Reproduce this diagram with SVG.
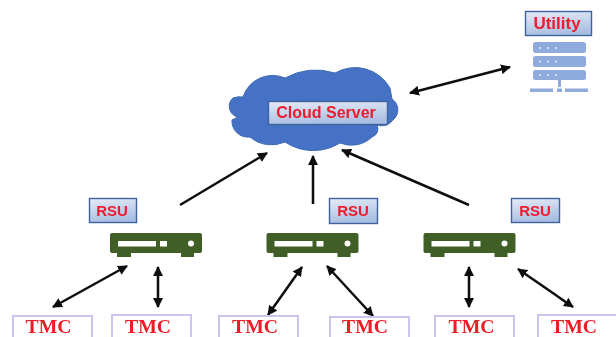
<svg xmlns="http://www.w3.org/2000/svg" width="616" height="337" viewBox="0 0 616 337">
<style>
.lbl{fill:url(#boxfill);stroke:#3f64a0;stroke-width:1.4}
.lt{font-family:"Liberation Sans",Arial,sans-serif;font-weight:700;fill:#ee1c2e;text-anchor:middle}
.tmc{fill:#fff;stroke:#c9c6ee;stroke-width:2}
.tt{font-family:"Liberation Serif","Times New Roman",serif;font-weight:700;font-size:18px;fill:#ee1c25;text-anchor:middle}
.dev{fill:#3f5f27}
.hole{fill:#fff}
.srv{fill:#8faadc}
.c{stroke:#111;stroke-width:2.5;fill:none;marker-end:url(#ah)}
.d{marker-start:url(#ahs)}
</style>
<defs>
<linearGradient id="boxfill" x1="0" y1="0" x2="0.25" y2="1"><stop offset="0" stop-color="#e6ebf6"/><stop offset="1" stop-color="#a9bfe2"/></linearGradient>
<marker id="ah" viewBox="0 0 10 10" refX="9" refY="5" markerWidth="4" markerHeight="4" orient="auto"><path d="M0 0L10 5L0 10Z" fill="#111"/></marker>
<marker id="ahs" viewBox="0 0 10 10" refX="1" refY="5" markerWidth="4" markerHeight="4" orient="auto"><path d="M10 0L0 5L10 10Z" fill="#111"/></marker>
<filter id="soft" x="-5%" y="-5%" width="110%" height="110%"><feGaussianBlur stdDeviation="0.5"/></filter>
<g id="device"><path class="dev" d="M112 233H200Q202 233 202 235V251Q202 253 200 253H194V257H181V253H131V257H117V253H112Q110 253 110 251V235Q110 233 112 233Z"/><rect class="hole" x="118" y="241" width="38" height="5.5"/><rect class="hole" x="160" y="241" width="7" height="5.5"/><circle class="hole" cx="191" cy="243.5" r="3"/></g>
</defs>
<g filter="url(#soft)">
<g id="connectors">
<line class="c d" x1="410" y1="93" x2="510" y2="67"/>
<line class="c" x1="180" y1="205" x2="267" y2="153"/>
<line class="c" x1="313" y1="204" x2="313" y2="156"/>
<line class="c" x1="469" y1="205" x2="342" y2="150"/>
<line class="c d" x1="53" y1="307" x2="127" y2="266"/>
<line class="c d" x1="158" y1="267" x2="158" y2="307"/>
<line class="c d" x1="268" y1="315" x2="302" y2="267"/>
<line class="c d" x1="327" y1="266" x2="373" y2="316"/>
<line class="c d" x1="469" y1="267" x2="469" y2="307"/>
<line class="c d" x1="518" y1="269" x2="573" y2="307"/>
</g>
<g id="cloud">
<path fill="#4472c4" stroke="#4069b5" stroke-width="1" d="M243 97A31 31 0 0 1 285 78A65 65 0 0 1 335 73A40 40 0 0 1 390 88L392 99A13 13 0 0 1 393 120A14 14 0 0 1 377 125A8.500 8.500 0 0 1 372 137A30 30 0 0 1 340 143A51 51 0 0 1 285 142A33 33 0 0 1 250 137A16 16 0 0 1 232 120L238 117A11 11 0 0 1 233 98A20 20 0 0 1 243 97Z"/>
<rect class="lbl" x="268.500" y="101.500" width="119" height="23"/>
<text class="lt" x="326" y="118" font-size="16">Cloud Server</text>
</g>
<g id="utility">
<rect class="lbl" x="525.500" y="11.500" width="66" height="24"/>
<text class="lt" x="557" y="29" font-size="17">Utility</text>
<rect class="srv" x="533" y="42" width="53" height="11" rx="2.500"/>
<rect class="srv" x="533" y="56" width="53" height="11" rx="2.500"/>
<rect class="srv" x="533" y="70" width="53" height="10" rx="2.500"/>
<rect class="srv" x="558" y="80" width="3" height="7"/>
<rect class="srv" x="530" y="88.500" width="23" height="3.500"/>
<rect class="srv" x="557" y="88.500" width="5" height="3.500"/>
<rect class="srv" x="565" y="88.500" width="23" height="3.500"/>
<g fill="#e4ebf8"><circle cx="540" cy="48" r="1.100"/><circle cx="548" cy="48" r="1.100"/><circle cx="556" cy="48" r="1.100"/><circle cx="540" cy="61.500" r="1.100"/><circle cx="548" cy="61.500" r="1.100"/><circle cx="556" cy="61.500" r="1.100"/><circle cx="540" cy="75" r="1.100"/><circle cx="548" cy="75" r="1.100"/><circle cx="556" cy="75" r="1.100"/></g>
</g>
<g id="rsu1"><rect class="lbl" x="89.500" y="198.500" width="47" height="24"/><text class="lt" x="112" y="215.500" font-size="15">RSU</text><use href="#device"/></g>
<g id="rsu2"><rect class="lbl" x="329.500" y="198.500" width="48" height="25"/><text class="lt" x="353" y="215.500" font-size="15">RSU</text><use href="#device" x="156.500"/></g>
<g id="rsu3"><rect class="lbl" x="511.500" y="198.500" width="48" height="24"/><text class="lt" x="535" y="215.500" font-size="15">RSU</text><use href="#device" x="313.500"/></g>
<g id="tmc1"><rect class="tmc" x="13" y="316" width="79" height="30"/><text class="tt" x="48.500" y="333" textLength="46" lengthAdjust="spacingAndGlyphs">TMC</text></g>
<g id="tmc2"><rect class="tmc" x="112" y="315" width="79" height="30"/><text class="tt" x="148" y="332.500" textLength="46" lengthAdjust="spacingAndGlyphs">TMC</text></g>
<g id="tmc3"><rect class="tmc" x="219" y="316" width="79" height="30"/><text class="tt" x="255" y="333" textLength="46" lengthAdjust="spacingAndGlyphs">TMC</text></g>
<g id="tmc4"><rect class="tmc" x="330" y="317" width="79" height="30"/><text class="tt" x="365" y="333" textLength="46" lengthAdjust="spacingAndGlyphs">TMC</text></g>
<g id="tmc5"><rect class="tmc" x="435" y="316" width="79" height="30"/><text class="tt" x="471.500" y="333" textLength="46" lengthAdjust="spacingAndGlyphs">TMC</text></g>
<g id="tmc6"><rect class="tmc" x="538" y="315" width="79" height="30"/><text class="tt" x="574" y="332.500" textLength="46" lengthAdjust="spacingAndGlyphs">TMC</text></g>
</g>
</svg>
